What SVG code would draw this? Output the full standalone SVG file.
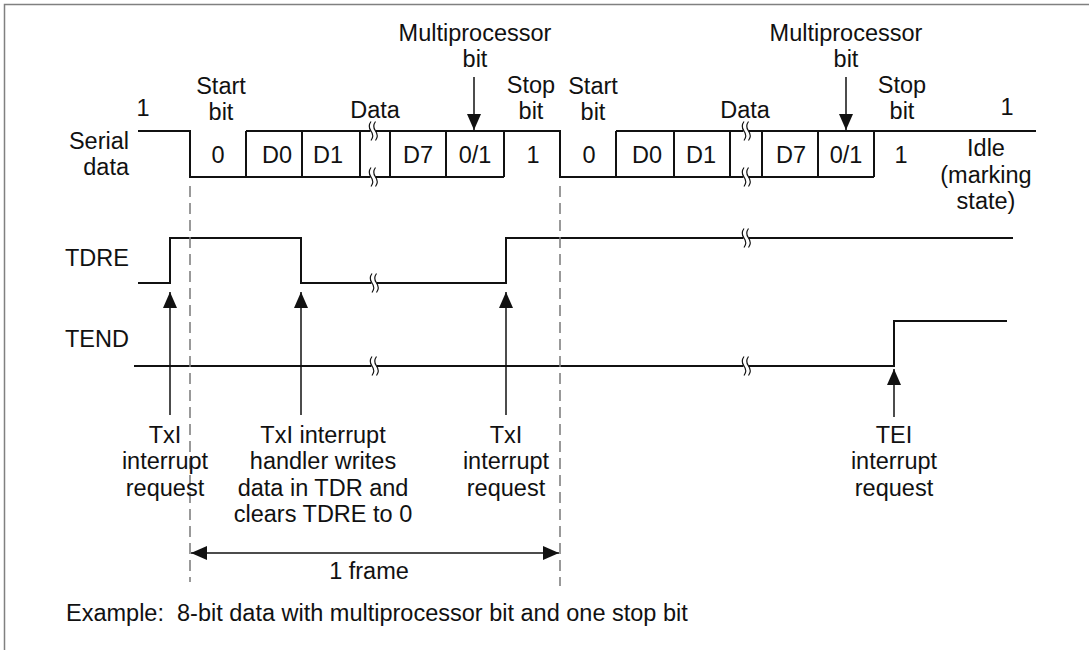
<svg xmlns="http://www.w3.org/2000/svg" width="1089" height="650" viewBox="0 0 1089 650">
<style>
  text { font-family: "Liberation Sans", Arial, sans-serif; font-size: 23.5px; fill: #111; }
  .m { text-anchor: middle; }
  .e { text-anchor: end; }
  .w { fill: none; stroke: #111; stroke-width: 2; stroke-linejoin: miter; }
  .a { fill: none; stroke: #111; stroke-width: 1.5; }
  .d { fill: none; stroke: #808080; stroke-width: 1.6; stroke-dasharray: 11 6; }
  .sq { fill: none; stroke: #111; stroke-width: 1.2; }
</style>
<defs>
  <marker id="ah" viewBox="0 0 16 14" refX="16" refY="7" markerWidth="16" markerHeight="14" orient="auto-start-reverse" markerUnits="userSpaceOnUse">
    <path d="M0,0 L16,7 L0,14 z" fill="#111"/>
  </marker>
  <g id="brk">
    <rect x="-2.5" y="-8" width="5" height="16" fill="#fff"/>
    <path class="sq" d="M-2,-9.5 Q-5.5,-4.75 -2,0 Q1.5,4.75 -2,9.5"/>
    <path class="sq" d="M2.5,-9.5 Q-1,-4.75 2.5,0 Q6,4.75 2.5,9.5"/>
  </g>
</defs>
<rect x="0" y="0" width="1089" height="650" fill="#fff"/>
<path d="M4.5,660 V4.5 H1100" fill="none" stroke="#808080" stroke-width="1.5"/>

<g id="connectors">
  <!-- Serial data waveform -->
  <path class="w" d="M138,131 H190 V177 H246"/>
  <path class="w" d="M246,131 H504 H560 V177 H616"/>
  <path class="w" d="M246,177 H504"/>
  <path class="w" d="M246,131 V177 M302,131 V177 M360,131 V177 M390,131 V177 M446,131 V177 M504,131 V177"/>
  <path class="w" d="M616,131 H1036"/>
  <path class="w" d="M616,177 H874"/>
  <path class="w" d="M616,131 V177 M674,131 V177 M730,131 V177 M762,131 V177 M818,131 V177 M874,131 V177"/>
  <use href="#brk" x="373" y="131"/>
  <use href="#brk" x="373" y="177"/>
  <use href="#brk" x="746" y="131"/>
  <use href="#brk" x="746" y="177"/>
  <!-- TDRE -->
  <path class="w" d="M138,283 H170 V238 H301 V283 H506 V238 H1013"/>
  <use href="#brk" x="374" y="283"/>
  <use href="#brk" x="746" y="238"/>
  <!-- TEND -->
  <path class="w" d="M134,366 H894 V321 H1007"/>
  <use href="#brk" x="374" y="366"/>
  <use href="#brk" x="746" y="366"/>
  <!-- dashed frame boundaries -->
  <line class="d" x1="190" y1="186" x2="190" y2="582"/>
  <line class="d" x1="560" y1="186" x2="560" y2="586"/>
  <!-- multiprocessor bit arrows -->
  <line class="a" x1="474" y1="77" x2="474" y2="130" marker-end="url(#ah)"/>
  <line class="a" x1="846" y1="77" x2="846" y2="130" marker-end="url(#ah)"/>
  <!-- interrupt arrows -->
  <line class="a" x1="170" y1="415" x2="170" y2="292" marker-end="url(#ah)"/>
  <line class="a" x1="301" y1="415" x2="301" y2="292" marker-end="url(#ah)"/>
  <line class="a" x1="506" y1="415" x2="506" y2="292" marker-end="url(#ah)"/>
  <line class="a" x1="894" y1="417" x2="894" y2="369" marker-end="url(#ah)"/>
  <!-- 1 frame -->
  <line class="a" x1="191" y1="553" x2="559" y2="553" marker-start="url(#ah)" marker-end="url(#ah)"/>
</g>

<g id="serial-labels">
  <text class="e" x="129" y="149">Serial</text>
  <text class="e" x="129" y="175">data</text>
  <text class="m" x="143" y="116">1</text>
  <text class="m" x="221" y="94">Start</text>
  <text class="m" x="221" y="120">bit</text>
  <text class="m" x="375" y="118">Data</text>
  <text class="m" x="475" y="41">Multiprocessor</text>
  <text class="m" x="475" y="67">bit</text>
  <text class="m" x="531" y="93">Stop</text>
  <text class="m" x="531" y="119">bit</text>
  <text class="m" x="593" y="94">Start</text>
  <text class="m" x="593" y="120">bit</text>
  <text class="m" x="745" y="118">Data</text>
  <text class="m" x="846" y="41">Multiprocessor</text>
  <text class="m" x="846" y="67">bit</text>
  <text class="m" x="902" y="93">Stop</text>
  <text class="m" x="902" y="119">bit</text>
  <text class="m" x="1007" y="115">1</text>
  <text class="m" x="986" y="156">Idle</text>
  <text class="m" x="986" y="183">(marking</text>
  <text class="m" x="986" y="209">state)</text>
</g>

<g id="bits">
  <text class="m" x="218" y="163">0</text>
  <text class="m" x="277" y="163">D0</text>
  <text class="m" x="328" y="163">D1</text>
  <text class="m" x="418" y="163">D7</text>
  <text class="m" x="475" y="163">0/1</text>
  <text class="m" x="533" y="163">1</text>
  <text class="m" x="589" y="163">0</text>
  <text class="m" x="647" y="163">D0</text>
  <text class="m" x="701" y="163">D1</text>
  <text class="m" x="791" y="163">D7</text>
  <text class="m" x="846" y="163">0/1</text>
  <text class="m" x="901" y="163">1</text>
</g>

<g id="signal-labels">
  <text class="e" x="129" y="266">TDRE</text>
  <text class="e" x="129" y="347">TEND</text>
</g>

<g id="note-txi-1">
  <text class="m" x="165" y="443">TxI</text>
  <text class="m" x="165" y="469">interrupt</text>
  <text class="m" x="165" y="496">request</text>
</g>
<g id="note-handler">
  <text class="m" x="323" y="443">TxI interrupt</text>
  <text class="m" x="323" y="469">handler writes</text>
  <text class="m" x="323" y="496">data in TDR and</text>
  <text class="m" x="323" y="522">clears TDRE to 0</text>
</g>
<g id="note-txi-2">
  <text class="m" x="506" y="443">TxI</text>
  <text class="m" x="506" y="469">interrupt</text>
  <text class="m" x="506" y="496">request</text>
</g>
<g id="note-tei">
  <text class="m" x="894" y="443">TEI</text>
  <text class="m" x="894" y="469">interrupt</text>
  <text class="m" x="894" y="496">request</text>
</g>
<g id="frame-label">
  <text class="m" x="369" y="579">1 frame</text>
</g>
<g id="caption">
  <text x="66" y="621" xml:space="preserve">Example:  8-bit data with multiprocessor bit and one stop bit</text>
</g>
</svg>
